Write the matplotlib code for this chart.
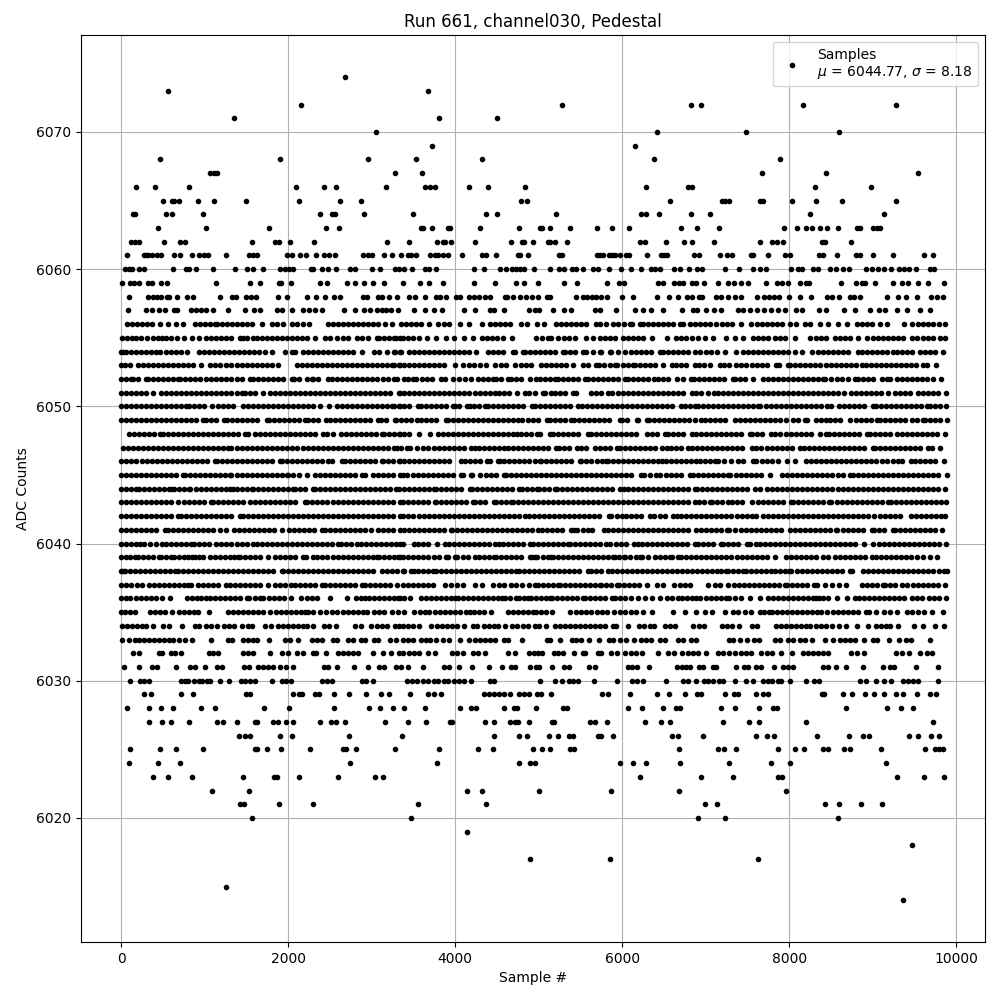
"""plot.py

Pedestal samples for one channel, read off the reference picture level by level.

"""

import matplotlib
matplotlib.use("Agg")
import matplotlib.pyplot as plt

s6014 = [9360]
s6015 = [1256]
s6017 = [4896, 5856, 7632]
s6018 = [9468]
s6019 = [4136]
s6020 = [1568, 3476, 6912, 7236, 8580]
s6021 = [1424, 1472, 1892, 2300, 3560, 4364, 6996, 7140, 8436, 8592, 8856, 9108]
s6022 = [1088, 1532, 4136, 4316, 5004, 5868, 6684, 7968]
s6023 = [380, 560, 848, 1460, 1832, 1868, 2132, 2600, 3044, 3140, 6216, 6948, 7332, 7872, 7920, 9288, 9612, 9852]
s6024 = [92, 440, 704, 2744, 3776, 4760, 4896, 4956, 5976, 6132, 6288, 6696, 7284, 7788, 8016, 9156]
s6025 = [104, 464, 656, 980, 1604, 1628, 1748, 1916, 2264, 2660, 2696, 2816, 3284, 3800, 4268, 4448, 4932, 5040, 5136, 5376, 5424, 6684, 7152, 7224, 7368, 7872, 8076, 8184, 8412, 8472, 8652, 8724, 9096, 9624, 9744, 9792, 9840]
s6026 = [1412, 1484, 1544, 1904, 2048, 2732, 3368, 4460, 4760, 4860, 5124, 5232, 5364, 5412, 5712, 5748, 5892, 6600, 6672, 6972, 7608, 7740, 7824, 8340, 8712, 8880, 8952, 9432, 9540, 9696, 9792]
s6027 = [332, 488, 596, 812, 1148, 1220, 1388, 1604, 1628, 1820, 1880, 1976, 2060, 2384, 2516, 2576, 2684, 3164, 3440, 3656, 3932, 3956, 4352, 4460, 4652, 4712, 4748, 4884, 5160, 5184, 5616, 5676, 5820, 6276, 6468, 6576, 7212, 7524, 7644, 8208, 9720]
s6028 = [68, 332, 476, 620, 956, 1124, 1712, 2012, 2552, 2972, 3104, 3260, 3392, 3644, 4052, 4184, 4244, 4580, 4700, 4736, 4968, 5292, 5340, 6072, 6240, 6484, 6648, 6696, 7188, 7356, 7644, 7812, 7860, 8676, 9168, 9344, 9480]
s6029 = [272, 356, 716, 860, 1496, 1544, 2060, 2132, 2168, 2324, 2372, 2552, 2732, 2936, 3116, 3212, 3464, 3680, 3740, 3824, 4340, 4400, 4460, 4520, 4580, 4660, 4760, 4820, 4880, 4980, 5028, 5148, 5760, 5832, 6096, 6420, 6564, 6756, 6900, 6948, 7236, 7344, 7392, 7608, 7692, 7752, 8400, 8424, 8640, 8748, 8904, 9012, 9132, 9276, 9360, 9528, 9684, 9756]
s6030 = [104, 224, 272, 332, 716, 764, 800, 872, 932, 968, 1028, 1064, 1184, 1292, 1436, 1484, 1544, 1604, 1808, 1928, 1976, 2036, 2408, 2468, 2528, 2888, 2936, 3020, 3428, 3488, 3548, 3620, 3680, 3740, 3788, 3860, 3908, 3980, 4040, 4100, 4184, 4412, 4460, 5016, 5196, 5280, 5364, 5412, 5472, 5664, 5940, 6120, 6180, 6252, 6528, 6732, 6792, 6888, 6984, 7032, 7092, 7164, 7212, 7356, 7488, 7572, 7692, 7752, 7800, 7872, 7908, 8016, 8208, 8304, 8364, 8844, 8916, 9036, 9132, 9216, 9360, 9420, 9480, 9540, 9780]
s6031 = [32, 212, 368, 428, 656, 824, 884, 1004, 1148, 1208, 1472, 1532, 1640, 1700, 1760, 1820, 1904, 1976, 2060, 2432, 2480, 2588, 2792, 2960, 3092, 3152, 3296, 3356, 3440, 3620, 3860, 3920, 4040, 4196, 4400, 4556, 4664, 4712, 4896, 4968, 5004, 5164, 5304, 5364, 5604, 5676, 6072, 6120, 6180, 6324, 6660, 6720, 6768, 6816, 6924, 6972, 7092, 7128, 7368, 7464, 7512, 7608, 7668, 7824, 7932, 7992, 8052, 8412, 8472, 8556, 8676, 8880, 9120, 9204, 9252, 9516, 9780]
s6032 = [140, 212, 452, 488, 596, 644, 716, 1052, 1100, 1160, 1460, 1520, 1580, 1784, 1928, 2000, 2108, 2180, 2300, 2336, 2456, 2600, 2660, 2720, 2780, 2840, 3020, 3140, 3236, 3332, 3380, 3452, 3512, 3572, 3680, 3752, 3956, 4020, 4088, 4208, 4268, 4352, 4628, 4712, 4880, 4944, 4992, 5040, 5184, 5232, 5292, 5424, 5532, 5556, 5712, 5748, 5868, 5940, 6036, 6108, 6168, 6240, 6432, 6552, 6624, 6720, 6792, 6852, 6912, 7008, 7152, 7212, 7284, 7356, 7428, 7488, 7548, 7668, 7740, 7800, 7908, 8040, 8172, 8232, 8292, 8352, 8412, 8472, 8736, 8808, 8892, 9276, 9348, 9432, 9564, 9648, 9708]
s6033 = [8, 92, 164, 212, 272, 332, 392, 452, 512, 572, 620, 692, 764, 848, 1076, 1280, 1328, 1460, 1520, 1580, 1628, 1772, 1964, 2024, 2120, 2288, 2348, 2408, 2540, 2588, 2720, 2780, 2876, 2924, 3032, 3080, 3224, 3296, 3380, 3440, 3500, 3596, 3656, 3704, 3764, 3848, 3920, 4052, 4160, 4232, 4292, 4352, 4412, 4472, 4580, 4628, 4800, 5100, 5136, 5256, 5400, 5448, 5508, 5604, 5724, 5844, 5892, 5976, 6048, 6144, 6228, 6288, 6348, 6456, 6516, 6672, 6732, 6828, 6888, 7284, 7332, 7416, 7500, 7584, 7644, 7836, 7896, 7992, 8052, 8136, 8196, 8280, 8436, 8532, 8604, 8664, 8724, 8784, 8892, 9000, 9048, 9192, 9312, 9396, 9456, 9684]
s6034 = [8, 68, 128, 188, 248, 296, 380, 500, 572, 728, 884, 932, 1016, 1076, 1148, 1232, 1292, 1352, 1448, 1520, 1568, 1724, 1796, 1880, 1940, 2000, 2060, 2120, 2180, 2228, 2300, 2432, 2492, 2576, 2804, 2876, 2996, 3068, 3128, 3188, 3284, 3332, 3380, 3440, 3500, 3572, 3716, 3776, 3836, 3896, 3956, 4016, 4100, 4208, 4256, 4340, 4400, 4460, 4508, 4592, 4676, 4736, 4812, 4872, 4956, 5004, 5088, 5196, 5256, 5316, 5376, 5436, 5496, 5556, 5616, 5676, 5736, 5796, 5892, 5928, 6072, 6204, 6264, 6336, 6384, 6516, 6576, 6636, 6852, 6924, 6984, 7200, 7260, 7320, 7404, 7560, 7620, 7848, 7908, 7968, 8028, 8088, 8148, 8208, 8256, 8328, 8388, 8448, 8520, 8592, 8676, 8808, 8940, 9036, 9096, 9156, 9204, 9300, 9492, 9600, 9744, 9852]
s6035 = [0, 50, 110, 160, 340, 400, 460, 520, 612, 692, 750, 810, 870, 920, 1052, 1280, 1340, 1400, 1460, 1520, 1580, 1640, 1700, 1780, 1852, 1910, 1970, 2030, 2090, 2150, 2200, 2240, 2300, 2380, 2450, 2520, 2588, 2650, 2710, 2770, 2830, 2890, 2940, 3028, 3090, 3150, 3240, 3312, 3392, 3504, 3584, 3640, 3692, 3760, 3820, 3880, 3940, 4000, 4060, 4132, 4172, 4230, 4290, 4350, 4424, 4632, 4690, 4750, 4810, 4870, 4932, 4972, 5030, 5090, 5160, 5372, 5452, 5510, 5570, 5624, 5704, 5760, 5824, 5904, 5970, 6032, 6104, 6170, 6252, 6352, 6612, 6752, 6880, 6988, 7080, 7228, 7328, 7388, 7470, 7548, 7648, 7700, 7760, 7800, 7860, 7920, 7980, 8040, 8100, 8160, 8220, 8280, 8340, 8388, 8456, 8528, 8590, 8648, 8708, 8770, 8830, 8920, 8960, 9040, 9136, 9210, 9288, 9408, 9470, 9540, 9620, 9708, 9840]
s6036 = [0, 60, 108, 170, 230, 290, 350, 420, 492, 580, 788, 850, 910, 960, 1020, 1060, 1120, 1180, 1240, 1300, 1360, 1420, 1500, 1532, 1600, 1660, 1700, 1772, 1830, 1890, 1948, 2028, 2152, 2220, 2280, 2340, 2500, 2708, 2812, 2870, 2920, 2972, 3030, 3090, 3150, 3210, 3270, 3340, 3320, 3384, 3464, 3592, 3650, 3710, 3770, 3830, 3890, 3950, 3992, 4032, 4090, 4150, 4210, 4270, 4330, 4390, 4450, 4510, 4560, 4600, 4660, 4732, 4760, 4820, 4872, 4912, 4970, 5030, 5090, 5132, 5160, 5220, 5280, 5340, 5400, 5460, 5532, 5560, 5620, 5680, 5740, 5800, 5880, 5912, 5970, 6040, 6104, 6184, 6272, 6360, 6452, 6532, 6592, 6672, 6720, 6780, 6840, 6888, 6936, 7000, 7060, 7120, 7180, 7240, 7280, 7348, 7428, 7528, 7656, 7748, 7810, 7870, 7930, 7990, 8050, 8110, 8170, 8230, 8290, 8328, 8360, 8408, 8468, 8568, 8696, 8788, 8840, 8900, 8960, 9020, 9080, 9140, 9200, 9260, 9320, 9380, 9468, 9528, 9588, 9680, 9740, 9800, 9880]
s6037 = [0, 60, 120, 190, 252, 332, 390, 450, 510, 570, 630, 690, 750, 800, 840, 920, 980, 1040, 1100, 1160, 1252, 1300, 1360, 1420, 1480, 1540, 1600, 1660, 1760, 1840, 1900, 1960, 2028, 2080, 2140, 2200, 2260, 2320, 2400, 2440, 2500, 2560, 2620, 2680, 2740, 2800, 2880, 2920, 2980, 3040, 3100, 3160, 3220, 3300, 3372, 3430, 3490, 3550, 3610, 3670, 3732, 3880, 3950, 4020, 4092, 4232, 4320, 4452, 4520, 4590, 4664, 4732, 4800, 4880, 4952, 4992, 5050, 5110, 5170, 5232, 5252, 5310, 5370, 5430, 5490, 5550, 5610, 5670, 5732, 5752, 5810, 5870, 5944, 5960, 6020, 6080, 6140, 6200, 6292, 6412, 6492, 6624, 6690, 6750, 6812, 7028, 7108, 7176, 7268, 7336, 7400, 7460, 7520, 7580, 7640, 7700, 7760, 7820, 7880, 7948, 7976, 8040, 8100, 8160, 8220, 8296, 8336, 8428, 8520, 8600, 8680, 8868, 8930, 8990, 9050, 9120, 9148, 9210, 9270, 9348, 9416, 9480, 9540, 9600, 9660, 9720, 9780, 9868]
s6038 = [0, 20, 40, 100, 160, 220, 280, 340, 400, 460, 520, 580, 640, 680, 740, 800, 860, 920, 980, 1040, 1100, 1160, 1220, 1280, 1340, 1400, 1460, 1520, 1580, 1640, 1700, 1760, 1820, 1920, 1940, 2000, 2060, 2120, 2180, 2240, 2300, 2360, 2420, 2480, 2540, 2600, 2660, 2720, 2780, 2840, 2900, 2960, 3020, 3120, 3180, 3240, 3300, 3372, 3392, 3472, 3504, 3560, 3620, 3680, 3732, 3772, 3830, 3890, 3950, 4010, 4070, 4130, 4190, 4250, 4310, 4370, 4430, 4490, 4550, 4610, 4670, 4732, 4760, 4820, 4880, 4940, 5000, 5060, 5120, 5180, 5240, 5300, 5360, 5420, 5480, 5592, 5632, 5690, 5750, 5832, 5880, 5940, 6000, 6060, 6120, 6180, 6240, 6300, 6360, 6420, 6480, 6540, 6600, 6660, 6720, 6780, 6840, 6900, 6960, 7020, 7080, 7140, 7190, 7248, 7268, 7330, 7390, 7448, 7480, 7540, 7600, 7660, 7720, 7788, 7828, 7890, 7950, 8000, 8028, 8090, 8150, 8210, 8270, 8330, 8390, 8450, 8510, 8570, 8630, 8728, 8756, 8888, 8950, 9010, 9070, 9130, 9190, 9250, 9310, 9370, 9430, 9490, 9550, 9610, 9670, 9730, 9790, 9850, 9888]
s6039 = [0, 60, 110, 160, 200, 260, 320, 380, 452, 480, 540, 600, 628, 690, 750, 800, 852, 880, 930, 980, 1060, 1120, 1180, 1240, 1300, 1350, 1400, 1420, 1480, 1540, 1600, 1660, 1760, 1840, 1900, 1960, 2020, 2080, 2180, 2212, 2292, 2350, 2410, 2470, 2530, 2590, 2650, 2710, 2770, 2830, 2890, 2950, 3010, 3068, 3092, 3150, 3210, 3270, 3340, 3320, 3380, 3440, 3500, 3560, 3620, 3680, 3740, 3800, 3892, 3912, 4000, 4024, 4090, 4150, 4232, 4280, 4340, 4400, 4464, 4492, 4550, 4610, 4670, 4730, 4790, 4892, 4920, 4952, 4984, 5050, 5110, 5144, 5172, 5230, 5290, 5350, 5410, 5470, 5530, 5590, 5650, 5710, 5770, 5830, 5892, 5912, 5960, 6024, 6040, 6100, 6160, 6212, 6240, 6312, 6392, 6450, 6510, 6572, 6592, 6664, 6704, 6770, 6830, 6890, 6950, 7010, 7070, 7130, 7190, 7250, 7310, 7370, 7430, 7490, 7550, 7610, 7670, 7730, 7828, 7960, 8020, 8080, 8140, 8200, 8260, 8320, 8408, 8468, 8548, 8610, 8670, 8730, 8790, 8850, 8910, 8988, 9040, 9100, 9160, 9220, 9280, 9340, 9400, 9460, 9528, 9600, 9688, 9768]
s6040 = [0, 60, 120, 170, 220, 268, 340, 412, 492, 532, 590, 650, 710, 770, 840, 868, 930, 990, 1050, 1140, 1200, 1260, 1320, 1380, 1440, 1500, 1572, 1620, 1680, 1740, 1800, 1860, 1920, 1980, 2040, 2100, 2160, 2220, 2280, 2340, 2400, 2460, 2520, 2600, 2628, 2690, 2750, 2820, 2868, 2932, 2990, 3050, 3110, 3170, 3230, 3290, 3340, 3372, 3504, 3560, 3620, 3680, 3784, 3872, 3930, 3990, 4050, 4110, 4170, 4230, 4290, 4350, 4410, 4472, 4524, 4572, 4630, 4690, 4750, 4810, 4892, 4932, 4990, 5050, 5110, 5170, 5230, 5290, 5352, 5372, 5430, 5490, 5550, 5610, 5670, 5730, 5812, 5852, 5932, 5990, 6050, 6144, 6192, 6240, 6300, 6360, 6420, 6480, 6540, 6600, 6660, 6720, 6780, 6872, 6910, 6970, 7030, 7090, 7188, 7208, 7270, 7330, 7390, 7496, 7528, 7600, 7656, 7708, 7770, 7830, 7890, 7950, 8010, 8070, 8130, 8190, 8250, 8310, 8370, 8430, 8490, 8550, 8610, 8670, 8730, 8790, 8896, 9008, 9080, 9140, 9200, 9260, 9320, 9380, 9440, 9500, 9560, 9620, 9680, 9740, 9800, 9880]
s6041 = [0, 60, 120, 180, 240, 300, 360, 420, 520, 560, 620, 680, 740, 800, 860, 920, 980, 1040, 1100, 1188, 1252, 1348, 1410, 1470, 1530, 1590, 1650, 1710, 1770, 1830, 1920, 2012, 2070, 2130, 2190, 2250, 2310, 2400, 2440, 2500, 2560, 2620, 2680, 2740, 2800, 2860, 2920, 2992, 3080, 3140, 3200, 3260, 3340, 3392, 3450, 3510, 3570, 3630, 3690, 3750, 3810, 3870, 3944, 3960, 4020, 4080, 4140, 4200, 4260, 4320, 4380, 4440, 4500, 4560, 4620, 4680, 4740, 4800, 4860, 4920, 4992, 5040, 5100, 5160, 5220, 5280, 5384, 5424, 5464, 5530, 5590, 5640, 5784, 5832, 5890, 5950, 6010, 6070, 6130, 6190, 6250, 6310, 6370, 6430, 6490, 6550, 6612, 6672, 6730, 6790, 6888, 6948, 7010, 7070, 7130, 7190, 7256, 7280, 7350, 7428, 7480, 7540, 7600, 7660, 7720, 7780, 7840, 7900, 8008, 8068, 8130, 8190, 8250, 8310, 8370, 8430, 8490, 8560, 8576, 8640, 8700, 8760, 8820, 8880, 8988, 9016, 9080, 9140, 9240, 9268, 9330, 9390, 9450, 9510, 9570, 9630, 9690, 9750, 9828]
s6042 = [0, 60, 120, 180, 240, 300, 360, 420, 480, 540, 600, 680, 720, 780, 840, 900, 960, 1020, 1080, 1140, 1200, 1260, 1320, 1420, 1460, 1520, 1580, 1640, 1700, 1760, 1820, 1880, 1940, 2000, 2060, 2120, 2180, 2240, 2300, 2360, 2420, 2480, 2540, 2600, 2660, 2720, 2780, 2840, 2900, 2960, 3020, 3080, 3140, 3200, 3260, 3340, 3380, 3440, 3492, 3572, 3630, 3690, 3750, 3810, 3870, 3930, 3990, 4050, 4110, 4170, 4230, 4290, 4350, 4410, 4470, 4530, 4590, 4650, 4710, 4770, 4832, 4880, 4940, 5000, 5060, 5120, 5180, 5240, 5300, 5360, 5420, 5480, 5540, 5600, 5660, 5720, 5840, 5872, 5940, 6000, 6052, 6104, 6170, 6230, 6332, 6384, 6450, 6510, 6612, 6652, 6710, 6770, 6830, 6890, 6950, 7010, 7070, 7130, 7190, 7250, 7310, 7370, 7430, 7490, 7550, 7608, 7688, 7750, 7810, 7870, 7930, 7990, 8050, 8110, 8170, 8230, 8290, 8350, 8410, 8470, 8530, 8590, 8650, 8710, 8770, 8830, 8890, 8950, 9016, 9088, 9148, 9210, 9268, 9328, 9456, 9520, 9580, 9640, 9700, 9760, 9820, 9868]
s6043 = [0, 60, 120, 180, 240, 300, 360, 420, 480, 540, 600, 680, 748, 810, 870, 930, 990, 1080, 1100, 1160, 1220, 1280, 1340, 1400, 1460, 1540, 1600, 1660, 1720, 1780, 1840, 1900, 1960, 2020, 2080, 2200, 2228, 2290, 2350, 2410, 2470, 2530, 2590, 2650, 2710, 2770, 2830, 2890, 2950, 3010, 3070, 3130, 3190, 3250, 3340, 3380, 3440, 3500, 3560, 3620, 3680, 3752, 3772, 3830, 3890, 3950, 4010, 4070, 4130, 4212, 4240, 4300, 4360, 4464, 4492, 4550, 4610, 4664, 4692, 4750, 4810, 4870, 4930, 4990, 5050, 5110, 5170, 5230, 5290, 5350, 5410, 5470, 5530, 5590, 5650, 5710, 5770, 5830, 5890, 5950, 6010, 6070, 6130, 6190, 6250, 6310, 6370, 6430, 6490, 6550, 6610, 6670, 6730, 6790, 6872, 6920, 6980, 7048, 7080, 7140, 7200, 7268, 7320, 7380, 7440, 7560, 7628, 7690, 7750, 7810, 7870, 7930, 8028, 8048, 8110, 8170, 8230, 8290, 8350, 8410, 8480, 8508, 8570, 8630, 8690, 8750, 8810, 8870, 8930, 8990, 9050, 9110, 9188, 9216, 9280, 9340, 9400, 9460, 9520, 9580, 9640, 9700, 9760, 9820, 9880]
s6044 = [0, 60, 120, 180, 212, 270, 330, 390, 450, 510, 570, 612, 628, 690, 750, 812, 828, 890, 950, 1010, 1070, 1130, 1190, 1250, 1308, 1332, 1390, 1450, 1510, 1564, 1580, 1640, 1700, 1760, 1820, 1880, 1940, 2000, 2060, 2080, 2140, 2200, 2300, 2320, 2380, 2440, 2500, 2560, 2620, 2680, 2740, 2800, 2860, 2920, 2980, 3040, 3100, 3160, 3220, 3292, 3332, 3390, 3450, 3510, 3570, 3630, 3690, 3744, 3772, 3830, 3890, 3950, 4010, 4070, 4172, 4200, 4260, 4320, 4380, 4440, 4500, 4560, 4620, 4680, 4760, 4800, 4860, 4920, 4984, 5000, 5060, 5120, 5200, 5224, 5280, 5340, 5400, 5460, 5520, 5580, 5640, 5700, 5760, 5820, 5880, 5972, 6024, 6072, 6130, 6190, 6250, 6310, 6370, 6430, 6490, 6550, 6610, 6670, 6730, 6790, 6872, 6900, 6960, 7020, 7080, 7140, 7200, 7260, 7320, 7380, 7440, 7500, 7588, 7656, 7736, 7800, 7860, 7920, 7980, 8040, 8100, 8160, 8220, 8280, 8340, 8400, 8460, 8520, 8580, 8640, 8700, 8760, 8820, 8880, 8940, 9000, 9060, 9120, 9180, 9240, 9300, 9360, 9420, 9480, 9540, 9600, 9660, 9720, 9780, 9868]
s6045 = [0, 60, 120, 180, 240, 300, 360, 420, 480, 540, 600, 660, 740, 760, 820, 880, 940, 1000, 1060, 1120, 1180, 1240, 1300, 1320, 1380, 1440, 1500, 1560, 1620, 1680, 1740, 1800, 1860, 1920, 1980, 2000, 2060, 2128, 2228, 2320, 2380, 2440, 2500, 2560, 2620, 2680, 2740, 2800, 2880, 2920, 3020, 3080, 3140, 3200, 3260, 3340, 3372, 3424, 3490, 3550, 3610, 3670, 3732, 3792, 3850, 3910, 3970, 4064, 4092, 4184, 4200, 4292, 4372, 4430, 4490, 4584, 4612, 4670, 4730, 4790, 4850, 4910, 4970, 5030, 5090, 5150, 5210, 5270, 5330, 5390, 5450, 5510, 5570, 5630, 5690, 5750, 5810, 5870, 5930, 5990, 6050, 6110, 6224, 6264, 6330, 6400, 6452, 6520, 6580, 6640, 6700, 6812, 6848, 6910, 6970, 7030, 7090, 7150, 7210, 7268, 7296, 7360, 7420, 7480, 7540, 7600, 7660, 7768, 7920, 7980, 8040, 8100, 8160, 8220, 8280, 8340, 8400, 8460, 8520, 8580, 8640, 8728, 8760, 8820, 8880, 8940, 9000, 9060, 9120, 9180, 9240, 9300, 9360, 9420, 9480, 9540, 9600, 9660, 9720, 9780, 9888]
s6046 = [0, 60, 120, 180, 252, 310, 370, 430, 490, 550, 610, 670, 730, 790, 850, 910, 970, 1030, 1120, 1148, 1210, 1270, 1330, 1390, 1450, 1510, 1570, 1630, 1690, 1750, 1810, 1900, 1920, 1980, 2040, 2100, 2160, 2220, 2280, 2340, 2400, 2480, 2520, 2640, 2680, 2740, 2800, 2860, 2920, 2980, 3040, 3120, 3140, 3200, 3260, 3340, 3330, 3390, 3450, 3510, 3570, 3630, 3690, 3750, 3810, 3870, 3930, 4064, 4120, 4180, 4240, 4300, 4384, 4412, 4512, 4532, 4590, 4650, 4710, 4770, 4830, 4890, 4950, 5012, 5032, 5090, 5150, 5210, 5270, 5330, 5390, 5492, 5512, 5570, 5632, 5704, 5760, 5812, 5832, 5890, 5950, 6010, 6070, 6130, 6190, 6250, 6310, 6370, 6432, 6472, 6530, 6590, 6650, 6710, 6770, 6824, 6880, 6936, 6988, 7050, 7108, 7148, 7220, 7308, 7388, 7450, 7568, 7608, 7670, 7730, 7790, 7868, 7976, 8068, 8200, 8260, 8320, 8380, 8440, 8500, 8560, 8620, 8680, 8740, 8800, 8860, 8920, 8980, 9040, 9108, 9168, 9240, 9308, 9348, 9456, 9508, 9570, 9630, 9690, 9750, 9856]
s6047 = [20, 80, 140, 200, 260, 320, 380, 440, 500, 560, 620, 680, 740, 800, 860, 920, 980, 1040, 1100, 1160, 1220, 1280, 1320, 1380, 1440, 1500, 1560, 1620, 1680, 1740, 1800, 1860, 1920, 1980, 2040, 2100, 2180, 2240, 2300, 2360, 2420, 2480, 2540, 2600, 2660, 2720, 2780, 2840, 2900, 2960, 3020, 3080, 3140, 3200, 3300, 3272, 3350, 3424, 3464, 3540, 3612, 3680, 3740, 3800, 3860, 3920, 3980, 4040, 4100, 4192, 4232, 4290, 4350, 4410, 4470, 4530, 4590, 4632, 4690, 4750, 4810, 4870, 4930, 4990, 5050, 5110, 5212, 5240, 5300, 5360, 5464, 5504, 5572, 5680, 5732, 5790, 5850, 5944, 5972, 6030, 6090, 6150, 6210, 6270, 6330, 6390, 6480, 6532, 6590, 6650, 6710, 6784, 6840, 6900, 6960, 7020, 7080, 7140, 7200, 7260, 7320, 7380, 7440, 7560, 7608, 7668, 7730, 7790, 7850, 7910, 7970, 8030, 8136, 8176, 8240, 8300, 8360, 8420, 8480, 8540, 8600, 8660, 8720, 8780, 8840, 8900, 9008, 9028, 9090, 9150, 9210, 9270, 9330, 9390, 9450, 9510, 9570, 9668, 9708, 9808]
s6048 = [92, 150, 210, 270, 332, 388, 468, 500, 560, 620, 680, 740, 800, 860, 920, 980, 1040, 1100, 1160, 1220, 1280, 1340, 1400, 1480, 1520, 1600, 1660, 1720, 1780, 1840, 1900, 1960, 2020, 2080, 2140, 2200, 2260, 2320, 2420, 2460, 2540, 2628, 2690, 2750, 2810, 2870, 2930, 2990, 3050, 3120, 3148, 3210, 3270, 3340, 3330, 3390, 3450, 3572, 3700, 3792, 3850, 3910, 3970, 4030, 4090, 4150, 4210, 4270, 4330, 4390, 4450, 4510, 4570, 4630, 4690, 4744, 4792, 4850, 4910, 4984, 5016, 5132, 5172, 5230, 5290, 5350, 5410, 5470, 5592, 5632, 5690, 5750, 5810, 5870, 5930, 5990, 6050, 6110, 6170, 6292, 6360, 6420, 6512, 6552, 6610, 6670, 6730, 6832, 6880, 6940, 7000, 7060, 7120, 7180, 7240, 7300, 7360, 7420, 7536, 7560, 7620, 7680, 7788, 7828, 7896, 7960, 8020, 8080, 8140, 8200, 8260, 8376, 8440, 8480, 8540, 8600, 8660, 8720, 8780, 8840, 8928, 8968, 9030, 9090, 9150, 9210, 9296, 9356, 9408, 9470, 9530, 9590, 9650, 9710, 9770, 9868]
s6049 = [0, 60, 120, 180, 240, 300, 360, 420, 480, 540, 600, 652, 710, 770, 830, 890, 980, 1020, 1080, 1140, 1228, 1268, 1330, 1390, 1450, 1510, 1570, 1630, 1740, 1772, 1830, 1890, 1950, 2010, 2070, 2130, 2200, 2240, 2300, 2360, 2452, 2500, 2560, 2620, 2680, 2740, 2800, 2860, 2920, 2980, 3080, 3108, 3170, 3280, 3292, 3350, 3410, 3470, 3544, 3592, 3650, 3710, 3770, 3892, 3912, 3970, 4030, 4090, 4150, 4210, 4270, 4330, 4390, 4450, 4510, 4570, 4630, 4690, 4752, 4800, 4872, 4930, 4990, 5104, 5132, 5190, 5250, 5310, 5384, 5424, 5480, 5540, 5600, 5660, 5720, 5780, 5840, 5972, 6000, 6060, 6172, 6192, 6292, 6320, 6380, 6440, 6500, 6560, 6620, 6680, 6740, 6800, 6872, 6948, 6988, 7050, 7110, 7170, 7230, 7348, 7408, 7470, 7530, 7590, 7650, 7710, 7770, 7830, 7890, 7960, 8048, 8110, 8188, 8216, 8328, 8388, 8448, 8488, 8550, 8610, 8728, 8796, 8860, 8920, 8980, 9048, 9088, 9150, 9210, 9270, 9330, 9390, 9468, 9536, 9600, 9628, 9690, 9750, 9810, 9888]
s6050 = [0, 60, 120, 180, 240, 300, 360, 420, 480, 540, 600, 660, 720, 780, 812, 870, 930, 990, 1092, 1160, 1220, 1280, 1340, 1460, 1520, 1580, 1640, 1700, 1760, 1820, 1880, 1940, 2000, 2060, 2120, 2180, 2240, 2300, 2380, 2492, 2580, 2640, 2700, 2760, 2820, 2880, 2940, 3000, 3060, 3120, 3180, 3240, 3340, 3272, 3330, 3390, 3450, 3560, 3592, 3650, 3710, 3770, 3830, 3890, 3972, 3992, 4050, 4144, 4172, 4230, 4290, 4352, 4392, 4450, 4510, 4570, 4630, 4690, 4750, 4810, 4920, 4952, 5010, 5070, 5130, 5190, 5250, 5310, 5370, 5472, 5520, 5580, 5640, 5700, 5760, 5820, 5880, 5940, 6000, 6060, 6120, 6180, 6240, 6300, 6360, 6420, 6480, 6540, 6600, 6704, 6752, 6810, 6872, 6908, 6970, 7030, 7090, 7150, 7210, 7270, 7330, 7390, 7450, 7510, 7570, 7628, 7656, 7720, 7780, 7840, 7900, 7960, 8020, 8080, 8140, 8200, 8260, 8320, 8380, 8456, 8508, 8600, 8660, 8720, 8780, 8840, 8900, 9008, 9040, 9100, 9160, 9220, 9280, 9340, 9400, 9460, 9520, 9580, 9648, 9688, 9750, 9810, 9880]
s6051 = [0, 60, 120, 180, 240, 300, 380, 480, 540, 600, 660, 720, 780, 840, 900, 960, 1020, 1080, 1140, 1200, 1260, 1320, 1380, 1440, 1480, 1540, 1600, 1700, 1780, 1840, 1900, 1960, 2020, 2080, 2140, 2200, 2260, 2320, 2380, 2440, 2500, 2560, 2620, 2680, 2740, 2800, 2860, 2920, 2980, 3040, 3100, 3160, 3220, 3340, 3330, 3390, 3450, 3510, 3570, 3630, 3690, 3750, 3810, 3870, 3930, 3990, 4050, 4110, 4170, 4232, 4292, 4352, 4412, 4472, 4530, 4590, 4650, 4744, 4832, 4890, 4950, 5052, 5072, 5152, 5192, 5250, 5310, 5412, 5452, 5632, 5690, 5750, 5832, 5880, 5952, 6010, 6070, 6130, 6190, 6250, 6310, 6370, 6430, 6490, 6550, 6610, 6670, 6730, 6832, 6880, 6940, 7028, 7096, 7148, 7210, 7270, 7330, 7390, 7450, 7510, 7570, 7630, 7690, 7750, 7810, 7870, 7930, 7990, 8050, 8110, 8170, 8230, 8290, 8350, 8410, 8470, 8530, 8588, 8656, 8736, 8800, 8860, 8920, 8980, 9040, 9100, 9188, 9268, 9330, 9390, 9448, 9540, 9600, 9660, 9720, 9780, 9880]
s6052 = [0, 60, 120, 140, 200, 292, 320, 380, 440, 500, 560, 620, 680, 700, 760, 820, 880, 940, 1020, 1080, 1140, 1200, 1260, 1320, 1380, 1440, 1540, 1580, 1640, 1700, 1760, 1820, 1880, 1940, 2040, 2068, 2130, 2220, 2280, 2300, 2360, 2480, 2520, 2580, 2640, 2700, 2760, 2820, 2880, 2940, 3000, 3060, 3140, 3200, 3300, 3272, 3392, 3432, 3492, 3532, 3600, 3660, 3720, 3832, 3872, 3972, 4040, 4112, 4192, 4272, 4330, 4390, 4452, 4492, 4552, 4632, 4672, 4730, 4790, 4892, 4972, 5012, 5070, 5130, 5192, 5232, 5290, 5350, 5410, 5470, 5552, 5592, 5650, 5710, 5770, 5830, 5890, 5950, 6032, 6072, 6130, 6190, 6250, 6310, 6384, 6432, 6490, 6550, 6652, 6732, 6824, 6856, 6920, 6980, 7040, 7100, 7160, 7220, 7328, 7348, 7410, 7470, 7568, 7688, 7750, 7810, 7870, 7930, 7990, 8050, 8110, 8170, 8230, 8290, 8350, 8408, 8428, 8508, 8568, 8628, 8700, 8788, 8828, 8890, 8950, 9010, 9108, 9168, 9208, 9288, 9350, 9410, 9470, 9530, 9590, 9650, 9728, 9816]
s6053 = [0, 50, 108, 200, 260, 320, 380, 440, 500, 560, 620, 680, 740, 800, 860, 960, 1060, 1120, 1180, 1260, 1320, 1380, 1440, 1500, 1560, 1620, 1680, 1740, 1800, 1880, 2100, 2160, 2220, 2280, 2340, 2400, 2460, 2520, 2580, 2640, 2700, 2760, 2820, 2880, 2940, 3000, 3060, 3120, 3180, 3240, 3340, 3272, 3330, 3390, 3450, 3510, 3570, 3630, 3690, 3750, 3810, 3870, 3992, 4092, 4160, 4230, 4300, 4372, 4472, 4552, 4612, 4712, 4792, 4852, 4910, 5032, 5092, 5150, 5210, 5270, 5330, 5412, 5532, 5592, 5692, 5720, 5780, 5850, 5912, 5944, 6010, 6070, 6132, 6152, 6210, 6270, 6330, 6390, 6492, 6592, 6650, 6710, 6770, 6872, 6920, 6976, 7048, 7168, 7220, 7280, 7360, 7428, 7488, 7550, 7610, 7670, 7730, 7848, 7880, 7988, 8008, 8070, 8130, 8190, 8250, 8310, 8368, 8440, 8500, 8560, 8620, 8680, 8740, 8800, 8868, 8920, 8980, 9040, 9100, 9160, 9220, 9280, 9340, 9400, 9460, 9520, 9608, 9648, 9760]
s6054 = [0, 20, 60, 120, 180, 240, 300, 360, 420, 468, 532, 590, 650, 710, 788, 932, 990, 1050, 1110, 1170, 1230, 1290, 1350, 1410, 1470, 1530, 1590, 1650, 1720, 1808, 1960, 2040, 2080, 2180, 2240, 2300, 2360, 2420, 2480, 2540, 2600, 2660, 2720, 2780, 2880, 3028, 3090, 3180, 3280, 3340, 3352, 3272, 3452, 3510, 3570, 3630, 3690, 3750, 3810, 3870, 3930, 3990, 4050, 4110, 4170, 4252, 4392, 4450, 4510, 4570, 4692, 4720, 4812, 4840, 4900, 4960, 5020, 5080, 5140, 5200, 5292, 5320, 5380, 5440, 5532, 5572, 5650, 5732, 5752, 5852, 5872, 5950, 6032, 6112, 6170, 6230, 6290, 6350, 6452, 6492, 6550, 6610, 6670, 6730, 6790, 6872, 6930, 7000, 7060, 7136, 7228, 7368, 7448, 7510, 7570, 7630, 7690, 7750, 7810, 7870, 7930, 7990, 8068, 8160, 8280, 8348, 8408, 8470, 8530, 8590, 8650, 8710, 8828, 8868, 8930, 8990, 9050, 9110, 9170, 9240, 9288, 9350, 9410, 9470, 9568, 9628, 9690, 9750, 9840]
s6055 = [12, 70, 132, 172, 240, 308, 380, 440, 492, 540, 600, 670, 748, 852, 932, 1020, 1080, 1140, 1200, 1260, 1320, 1420, 1452, 1510, 1572, 1620, 1680, 1740, 1800, 1860, 1920, 1980, 2040, 2100, 2160, 2220, 2320, 2440, 2500, 2580, 2652, 2720, 2820, 2880, 2950, 3060, 3092, 3150, 3210, 3270, 3340, 3292, 3370, 3430, 3492, 3572, 3660, 3772, 3892, 3984, 4104, 4212, 4320, 4380, 4440, 4500, 4572, 4680, 4972, 5040, 5112, 5152, 5232, 5300, 5360, 5432, 5572, 5652, 5732, 5800, 5860, 5912, 6012, 6070, 6130, 6190, 6250, 6352, 6532, 6640, 6700, 6760, 6832, 6908, 6988, 7088, 7240, 7348, 7448, 7568, 7630, 7690, 7750, 7828, 7888, 7950, 8068, 8256, 8320, 8380, 8440, 8548, 8608, 8670, 8728, 8828, 8928, 9008, 9070, 9130, 9190, 9248, 9308, 9368, 9468, 9528, 9608, 9670, 9730, 9808, 9868]
s6056 = [68, 130, 190, 250, 310, 370, 460, 560, 652, 740, 880, 940, 1000, 1060, 1120, 1148, 1210, 1270, 1330, 1390, 1450, 1510, 1570, 1680, 1800, 1870, 1940, 2040, 2110, 2180, 2252, 2480, 2540, 2600, 2660, 2720, 2780, 2840, 2900, 2960, 3020, 3080, 3160, 3240, 3352, 3410, 3470, 3530, 3590, 3692, 3792, 3860, 3930, 4052, 4160, 4320, 4412, 4480, 4540, 4600, 4660, 4784, 4864, 4984, 5064, 5212, 5270, 5330, 5390, 5450, 5510, 5570, 5692, 5732, 5812, 5892, 5952, 6020, 6092, 6120, 6212, 6252, 6310, 6370, 6430, 6490, 6550, 6610, 6692, 6732, 6808, 6870, 6930, 6990, 7050, 7128, 7196, 7260, 7320, 7428, 7548, 7610, 7670, 7730, 7790, 7850, 7910, 8008, 8080, 8188, 8256, 8376, 8468, 8588, 8688, 8808, 8870, 8930, 8990, 9088, 9168, 9380, 9468, 9548, 9608, 9670, 9730, 9790, 9868]
s6057 = [80, 296, 368, 452, 524, 632, 668, 836, 896, 956, 1016, 1100, 1280, 1484, 1592, 1664, 1868, 1928, 2048, 2180, 2252, 2324, 2408, 2672, 2804, 2912, 2984, 3068, 3128, 3176, 3236, 3320, 3512, 3644, 3740, 3836, 4100, 4232, 4412, 4460, 4580, 4880, 4956, 5004, 5172, 5304, 5388, 5676, 5736, 5928, 6156, 6252, 6348, 6492, 6720, 6852, 6900, 7008, 7104, 7188, 7392, 7452, 7536, 7620, 7704, 7788, 7872, 7956, 8088, 8160, 8364, 8448, 8652, 8784, 8964, 9072, 9144, 9288, 9408, 9564, 9684]
s6058 = [92, 320, 380, 428, 476, 548, 572, 668, 788, 860, 1184, 1328, 1376, 1496, 1556, 1616, 1880, 1988, 2228, 2336, 2444, 2552, 2624, 2900, 2948, 3080, 3128, 3212, 3308, 3452, 3524, 3644, 3764, 3812, 3884, 4004, 4052, 4160, 4220, 4280, 4352, 4412, 4592, 4616, 4688, 4772, 4844, 4920, 4992, 5100, 5136, 5448, 5532, 5580, 5640, 5688, 5748, 5820, 6000, 6132, 6420, 6564, 6672, 6780, 6840, 6924, 6960, 7128, 7188, 7272, 7356, 7428, 7620, 7704, 7764, 7824, 7884, 8004, 8136, 8268, 8460, 8520, 8592, 8724, 8772, 8844, 9168, 9300, 9396, 9528, 9696, 9768, 9840]
s6059 = [8, 104, 152, 212, 320, 368, 476, 548, 1136, 1544, 1664, 1892, 1916, 2036, 2384, 2468, 2708, 2804, 2912, 3020, 3152, 3380, 3584, 3692, 3848, 4220, 4472, 4724, 4824, 4992, 5304, 5460, 5816, 5964, 6024, 6432, 6492, 6624, 6684, 6732, 6840, 6888, 6984, 7152, 7272, 7344, 7428, 7512, 7728, 7860, 7920, 7992, 8136, 8208, 8244, 8616, 8796, 8868, 8904, 9024, 9240, 9348, 9420, 9540, 9660, 9852]
s6060 = [44, 92, 128, 212, 272, 616, 776, 812, 896, 1100, 1364, 1508, 1580, 1700, 1904, 1964, 2012, 2060, 2276, 2300, 2408, 2480, 2576, 2744, 2804, 3008, 3104, 3284, 3332, 3392, 3488, 3644, 3692, 3764, 4220, 4340, 4532, 4604, 4676, 4724, 4772, 4820, 4948, 5136, 5244, 5304, 5400, 5448, 5532, 5652, 5712, 5844, 5988, 6108, 6228, 6348, 6396, 6456, 6624, 6696, 6804, 6900, 6960, 7236, 7404, 7572, 7656, 7728, 8028, 8112, 8160, 8292, 8352, 8496, 8556, 8640, 8712, 8916, 8988, 9060, 9132, 9216, 9316, 9372, 9432, 9516, 9684, 9732]
s6061 = [68, 272, 296, 320, 368, 428, 476, 632, 704, 848, 932, 992, 1040, 1256, 1532, 1580, 1628, 1988, 2048, 2144, 2216, 2336, 2432, 2492, 2564, 2900, 2960, 3000, 3152, 3248, 3356, 3440, 3476, 3536, 3704, 3752, 3788, 3848, 3908, 4076, 4316, 4364, 4484, 4748, 4772, 4872, 5244, 5280, 5700, 5736, 5772, 5844, 5880, 5916, 5976, 6048, 6084, 6300, 6468, 6504, 6540, 6864, 6924, 7176, 7260, 7320, 7548, 7572, 7752, 7956, 8016, 8364, 8412, 8568, 8796, 8844, 9000, 9240, 9612, 9720]
s6062 = [116, 164, 212, 512, 704, 764, 1568, 1844, 1892, 2024, 2312, 3188, 3452, 3776, 3848, 3872, 3944, 4232, 4664, 4800, 4824, 4932, 5112, 5136, 5196, 5340, 6216, 6276, 6528, 6744, 6840, 7104, 7656, 7800, 7860, 7932, 8400, 8436, 8736]
s6063 = [440, 1016, 1772, 2456, 2612, 3596, 3620, 3728, 3908, 3932, 4292, 4760, 5020, 5044, 5136, 5376, 5700, 5880, 6084, 6708, 6900, 7164, 7944, 8100, 8208, 8280, 8376, 8460, 8580, 8808, 8844, 9000, 9048, 9084]
s6064 = [140, 164, 536, 608, 980, 2384, 2528, 2560, 2912, 3500, 4364, 4496, 5208, 6228, 6288, 6444, 6828, 7056, 8256, 9132]
s6065 = [500, 608, 632, 692, 920, 1112, 1496, 2132, 2624, 2876, 4784, 4860, 6576, 7200, 7236, 7284, 7656, 7692, 8040, 8328, 8628, 9276]
s6066 = [176, 404, 812, 2096, 2432, 2576, 3176, 3644, 3704, 3752, 4160, 4388, 4836, 6288, 6792, 6840, 8316, 8976]
s6067 = [1064, 1112, 1148, 3284, 3608, 7680, 8448, 9540]
s6068 = [464, 1904, 2960, 3536, 4316, 6384, 7896]
s6069 = [3728, 6156]
s6070 = [3056, 6420, 7488, 8592]
s6071 = [1352, 3800, 4496]
s6072 = [2156, 5280, 6828, 6948, 8172, 9276]
s6073 = [560, 3680]
s6074 = [2684]

levels = [6014, 6015, 6017, 6018, 6019, 6020, 6021, 6022, 6023, 6024, 6025, 6026,
          6027, 6028, 6029, 6030, 6031, 6032, 6033, 6034, 6035, 6036, 6037, 6038,
          6039, 6040, 6041, 6042, 6043, 6044, 6045, 6046, 6047, 6048, 6049, 6050,
          6051, 6052, 6053, 6054, 6055, 6056, 6057, 6058, 6059, 6060, 6061, 6062,
          6063, 6064, 6065, 6066, 6067, 6068, 6069, 6070, 6071, 6072, 6073, 6074]
rows = [s6014, s6015, s6017, s6018, s6019, s6020, s6021, s6022, s6023, s6024, s6025, s6026,
        s6027, s6028, s6029, s6030, s6031, s6032, s6033, s6034, s6035, s6036, s6037, s6038,
        s6039, s6040, s6041, s6042, s6043, s6044, s6045, s6046, s6047, s6048, s6049, s6050,
        s6051, s6052, s6053, s6054, s6055, s6056, s6057, s6058, s6059, s6060, s6061, s6062,
        s6063, s6064, s6065, s6066, s6067, s6068, s6069, s6070, s6071, s6072, s6073, s6074]

xs = []
ys = []
for level, row in zip(levels, rows):
    xs.extend(row)
    ys.extend([level] * len(row))

fig, ax = plt.subplots(figsize=(10, 10), dpi=100)
ax.plot(xs, ys, "k.", label="Samples\n$\\mu$ = 6044.77, $\\sigma$ = 8.18")
ax.set_xlim(-483, 10347)
ax.set_ylim(6010.96, 6077.07)
ax.set_title("Run 661, channel030, Pedestal")
ax.set_xlabel("Sample #")
ax.set_ylabel("ADC Counts")
ax.grid(True)
ax.legend(loc="upper right")
fig.subplots_adjust(left=0.081, right=0.985, top=0.965, bottom=0.058)
fig.savefig("out.png", dpi=100)
